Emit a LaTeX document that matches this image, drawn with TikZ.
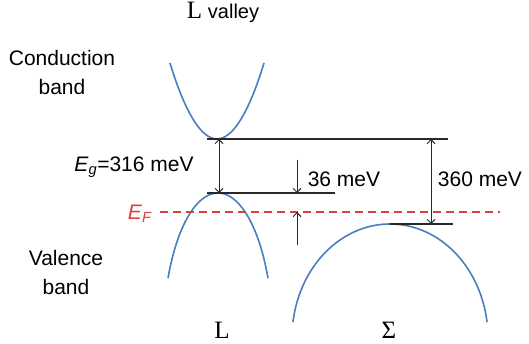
\documentclass[tikz,border=0pt]{standalone}
\usepackage{fontspec}
\setmainfont{Liberation Sans}
\newfontfamily\serifL{Liberation Serif}
\usetikzlibrary{arrows.meta}
\definecolor{bandblu}{RGB}{74,126,190}
\definecolor{fermirosso}{RGB}{222,62,62}
\definecolor{linea}{RGB}{40,40,40}

\begin{document}
\begin{tikzpicture}[x=1pt, y=-1pt,
        banda/.style={draw=bandblu, line width=1.6pt},
        livello/.style={draw=linea, line width=1.2pt},
        freccia/.style={draw=linea, line width=1pt},
        >={Straight Barb[length=4pt,width=8pt]},
        testo/.style={font=\fontsize{21}{29}\selectfont, align=center, inner sep=0pt}]
        \useasboundingbox (0,0) rectangle (529,344);

        % punti con nomi
        \coordinate (CBmin)  at (217,139);
        \coordinate (VBmax)  at (217,193);
        \coordinate (SGmax)  at (390,224);
        \coordinate (CBend)  at (448,139);
        \coordinate (VBend)  at (335,193);
        \coordinate (SGend)  at (453,224);
        \coordinate (CBsx)   at (207,139);
        \coordinate (VBsx)   at (207,193);
        \coordinate (EFsx)   at (160,212);
        \coordinate (EFdx)   at (500,212);

        % bande
        \draw[banda] (170,63) parabola bend (CBmin) (264,63);
        \draw[banda] plot[domain=204.6:335.4, samples=60] ({218+55*cos(\x)}, {339+146*sin(\x)});
        \draw[banda] plot[domain=188:352, samples=60] ({390+98*cos(\x)}, {338+114*sin(\x)});

        % livelli
        \draw[livello] (CBsx) -- (CBend);
        \draw[livello] (VBsx) -- (VBend);
        \draw[livello] (SGmax) -- (SGend);

        % livello di Fermi
        \draw[draw=fermirosso, line width=1.5pt, dash pattern=on 8pt off 5pt] (EFsx) -- (EFdx);

        % frecce
        \coordinate (Eg1) at (219,139);
        \coordinate (Eg2) at (219,193);
        \draw[freccia, <->] (Eg1) -- (Eg2);
        \coordinate (D1) at (297,160);
        \coordinate (D2) at (297,193);
        \coordinate (D3) at (297,212);
        \coordinate (D4) at (297,245);
        \draw[freccia, ->] (D1) -- (D2);
        \draw[freccia, ->] (D4) -- (D3);
        \coordinate (S1) at (431,139);
        \coordinate (S2) at (431,224);
        \draw[freccia, <->] (S1) -- (S2);

        % etichette
        \node[testo, anchor=base] (Lval) at (223,19) {{\serifL\fontsize{25}{25}\selectfont L} {\fontsize{20}{20}\selectfont valley}};
        \node[testo] (cond) at (62,72) {Conduction\\band};
        \node[testo] (val)  at (66,272) {Valence\\band};
        \node[testo] (Eg)   at (134,167) {\textit{E}\textsubscript{\textit{g}}=316 meV};
        \node[testo, text=fermirosso] (EF) at (140,214) {\textit{E}\textsubscript{\textit{F}}};
        \node[testo] (d36)  at (344,179) {36 meV};
        \node[testo] (d360) at (480,179) {360 meV};
        \node[testo, anchor=base, font=\serifL\fontsize{25}{25}\selectfont] (Lpt) at (222,338) {L};
        \node[testo, anchor=base, font=\serifL\fontsize{25}{25}\selectfont] (Spt) at (389,338) {Σ};

\end{tikzpicture}
\end{document}
